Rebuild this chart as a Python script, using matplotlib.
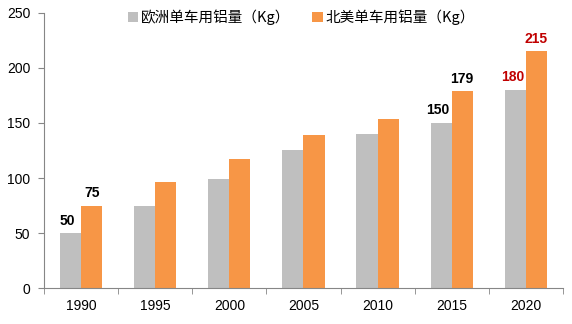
import numpy as np
import matplotlib
matplotlib.use("Agg")
from matplotlib import pyplot as plt

plt.rcParams['font.family'] = ['Noto Sans CJK SC', 'DejaVu Sans']

# 数据
years = ['1990', '1995', '2000', '2005', '2010', '2015', '2020']
europe = [50, 75, 99, 125, 140, 150, 180]
north_america = [75, 96, 117, 139, 154, 179, 215]
series_names = ['欧洲单车用铝量（Kg）', '北美单车用铝量（Kg）']
# 需要标注的类别索引 -> 颜色
labels_eu = {0: 'black', 5: 'black', 6: '#C00000'}
labels_na = {0: 'black', 5: 'black', 6: '#C00000'}

fig = plt.figure(figsize=(5.72, 3.24), dpi=100)
ax = fig.add_axes([0.077, 0.111, 0.907, 0.849])

x = np.arange(len(years))
w = 0.285
c_gray = '#BFBFBF'
c_orange = '#F79646'

b1 = ax.bar(x - w/2, europe, w, color=c_gray, label=series_names[0])
b2 = ax.bar(x + w/2, north_america, w, color=c_orange, label=series_names[1])

for i, col in labels_eu.items():
    ax.text(x[i] - w/2 - 0.04, europe[i] + 5, str(europe[i]), ha='center', va='bottom',
            fontsize=10, fontweight='bold', color=col, family=['Liberation Sans', 'DejaVu Sans'])
for i, col in labels_na.items():
    ax.text(x[i] + w/2, north_america[i] + 5, str(north_america[i]), ha='center', va='bottom',
            fontsize=10, fontweight='bold', color=col, family=['Liberation Sans', 'DejaVu Sans'])

ax.set_xlim(-0.5, len(years) - 0.5)
ax.set_ylim(0, 250)
ax.set_yticks(range(0, 251, 50))
ax.set_xticks(x)
ax.set_xticklabels(years)
ax.set_xticks(np.arange(-0.5, len(years), 1), minor=True)
ax.tick_params(axis='x', which='major', length=0, pad=8, labelsize=10)
ax.tick_params(axis='x', which='minor', length=4, color='#868686')
ax.tick_params(axis='y', length=4, color='#868686', labelsize=10, pad=6)
for lab in ax.get_xticklabels() + ax.get_yticklabels():
    lab.set_family(['Liberation Sans', 'DejaVu Sans'])

for s in ['top', 'right']:
    ax.spines[s].set_visible(False)
for s in ['left', 'bottom']:
    ax.spines[s].set_color('#868686')

fig.legend(handles=[b1, b2], loc='center', bbox_to_anchor=(0.527, 0.947), ncol=2,
           frameon=False, fontsize=10.5, handlelength=0.7, handleheight=0.7,
           handletextpad=0.2, columnspacing=1.5)

fig.savefig('out.png', dpi=100)
